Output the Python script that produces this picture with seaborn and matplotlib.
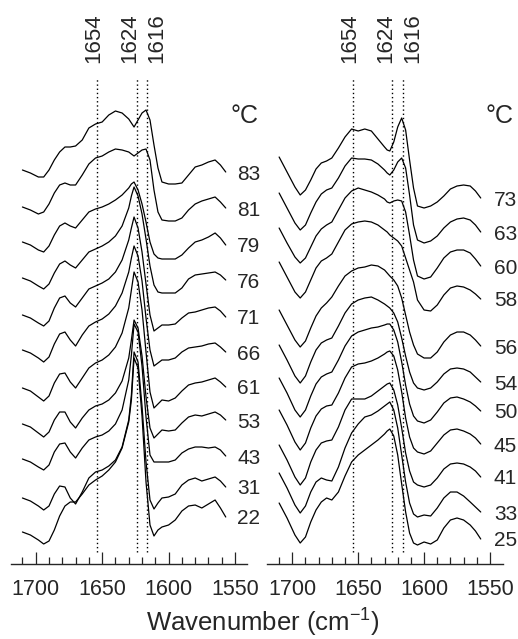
import pandas as pd
import numpy as np
import matplotlib
matplotlib.use('Agg')
import matplotlib.pyplot as plt
import seaborn as sns

# Wavenumber grid (cm-1) shared by all spectra
wavenumber = [1710, 1704, 1698, 1694, 1690, 1686, 1682, 1678, 1674, 1670, 1665, 1660, 1655, 1650,
              1645, 1640, 1635, 1630, 1628, 1626, 1623, 1620, 1617, 1614, 1611, 1608, 1605, 1600,
              1595, 1590, 1585, 1580, 1575, 1570, 1565, 1561, 1557]

# Left panel: stacked spectra (arbitrary units incl. vertical offset), by temperature
left_temps = ['83', '81', '79', '76', '71', '66', '61', '53', '43', '31', '22']
left_83 = [394, 391, 387, 387, 394, 404, 412, 417, 417, 418, 424, 436, 440, 442, 449, 453, 451, 445, 441,
           437, 444, 451, 454, 444, 419, 396, 382, 380, 380, 381, 389, 397, 399, 402, 404, 399, 392]
left_81 = [357, 354, 350, 352, 360, 371, 379, 381, 379, 379, 389, 400, 406, 408, 412, 415, 414, 412, 410,
           408, 411, 414, 415, 404, 374, 352, 344, 343, 343, 346, 354, 360, 363, 365, 367, 362, 356]
left_79 = [322, 319, 314, 312, 318, 329, 338, 341, 338, 336, 344, 352, 355, 357, 360, 364, 369, 376, 380,
           382, 374, 360, 342, 322, 310, 306, 305, 305, 305, 309, 316, 322, 324, 327, 331, 326, 319]
left_76 = [286, 283, 278, 275, 280, 291, 300, 303, 299, 296, 304, 312, 315, 318, 322, 328, 338, 356, 368,
           377, 368, 350, 325, 298, 279, 272, 271, 271, 271, 276, 285, 289, 290, 291, 292, 289, 284]
left_71 = [249, 246, 241, 238, 243, 256, 266, 268, 261, 257, 266, 275, 278, 281, 285, 292, 304, 324, 336,
           347, 336, 312, 280, 249, 233, 236, 239, 239, 240, 246, 251, 252, 254, 256, 257, 253, 247]
left_66 = [214, 211, 206, 202, 207, 220, 230, 232, 224, 218, 229, 238, 242, 245, 250, 258, 271, 292, 306,
           318, 308, 283, 246, 214, 198, 201, 204, 204, 206, 212, 216, 217, 218, 220, 221, 217, 212]
left_61 = [176, 173, 167, 163, 168, 181, 190, 191, 182, 176, 186, 196, 201, 204, 209, 217, 231, 256, 274,
           292, 282, 254, 212, 172, 156, 160, 164, 163, 166, 173, 179, 181, 182, 184, 186, 182, 177]
left_53 = [140, 137, 131, 127, 132, 144, 152, 152, 142, 136, 146, 154, 158, 160, 164, 171, 183, 206, 224,
           244, 236, 208, 167, 136, 126, 130, 134, 133, 134, 141, 147, 149, 148, 150, 152, 149, 144]
left_43 = [105, 102, 97, 94, 99, 112, 120, 121, 112, 106, 116, 124, 127, 129, 133, 140, 154, 184, 209,
           240, 232, 198, 147, 109, 102, 102, 102, 102, 104, 111, 115, 117, 117, 116, 117, 114, 108]
left_31 = [66, 63, 58, 54, 58, 70, 78, 77, 66, 60, 72, 86, 92, 94, 98, 104, 117, 144, 169,
           212, 202, 158, 102, 64, 55, 61, 66, 67, 70, 79, 84, 86, 83, 85, 87, 83, 77]
left_22 = [32, 29, 24, 20, 23, 34, 48, 58, 62, 62, 70, 79, 84, 88, 94, 102, 116, 142, 164,
           206, 196, 148, 82, 39, 28, 34, 37, 39, 44, 53, 58, 59, 56, 60, 64, 56, 47]

# Right panel
right_temps = ['73', '63', '60', '58', '56', '54', '50', '45', '41', '33', '25']
right_73 = [407, 392, 377, 369, 374, 384, 395, 401, 403, 406, 416, 427, 435, 433, 435, 433, 425, 417, 414,
            413, 422, 437, 446, 434, 404, 376, 358, 356, 358, 362, 368, 375, 378, 379, 378, 373, 366]
right_63 = [371, 356, 341, 334, 339, 351, 362, 370, 374, 376, 386, 398, 406, 405, 405, 404, 400, 394, 391,
            389, 394, 402, 406, 396, 369, 339, 324, 321, 323, 328, 336, 342, 345, 346, 344, 339, 332]
right_60 = [336, 321, 307, 301, 306, 317, 328, 335, 339, 342, 354, 366, 373, 376, 374, 372, 369, 365, 362,
            361, 363, 364, 363, 352, 329, 304, 288, 285, 287, 296, 306, 312, 314, 314, 311, 305, 298]
right_58 = [302, 287, 272, 266, 272, 284, 296, 303, 306, 310, 322, 334, 340, 342, 343, 342, 339, 334, 332,
            329, 326, 323, 318, 306, 294, 282, 264, 254, 253, 259, 269, 276, 278, 277, 274, 270, 265]
right_56 = [254, 239, 224, 217, 223, 236, 248, 256, 261, 267, 278, 288, 293, 296, 297, 299, 298, 294, 291,
            288, 284, 278, 266, 249, 232, 219, 210, 206, 206, 212, 222, 229, 232, 232, 229, 224, 218]
right_54 = [219, 204, 188, 181, 188, 202, 214, 221, 224, 226, 238, 251, 260, 264, 266, 267, 264, 260, 258,
            256, 251, 242, 226, 208, 192, 181, 176, 174, 176, 182, 190, 195, 196, 195, 192, 187, 182]
right_50 = [186, 171, 154, 147, 154, 168, 180, 187, 190, 192, 204, 218, 228, 232, 234, 236, 237, 239, 240,
            240, 234, 222, 202, 179, 160, 148, 143, 141, 144, 152, 161, 166, 167, 165, 162, 158, 153]
right_45 = [154, 139, 122, 114, 121, 136, 148, 155, 158, 159, 171, 186, 197, 200, 201, 203, 206, 210, 212,
            213, 208, 194, 172, 146, 127, 116, 112, 110, 113, 121, 129, 134, 135, 133, 130, 126, 120]
right_41 = [119, 104, 87, 79, 86, 102, 114, 121, 123, 124, 137, 154, 165, 165, 165, 168, 173, 178, 180,
            181, 174, 159, 136, 111, 93, 82, 79, 77, 79, 86, 95, 100, 101, 100, 97, 93, 87]
right_33 = [91, 76, 59, 51, 58, 72, 82, 86, 84, 83, 97, 116, 131, 140, 147, 149, 153, 158, 160,
            162, 154, 136, 109, 82, 61, 50, 47, 49, 48, 56, 66, 72, 72, 68, 62, 57, 52]
right_25 = [61, 46, 29, 21, 27, 42, 54, 62, 66, 64, 72, 88, 102, 109, 114, 119, 124, 130, 133,
            135, 128, 109, 80, 52, 31, 21, 19, 22, 20, 24, 36, 44, 46, 44, 39, 33, 25]

# Marked bands
band_pos = [1654, 1624, 1616]
band_labels = ['1654', '1624', '1616']

left_series = [left_83, left_81, left_79, left_76, left_71, left_66, left_61, left_53, left_43, left_31, left_22]
right_series = [right_73, right_63, right_60, right_58, right_56, right_54, right_50, right_45, right_41,
                right_33, right_25]


def to_long(temps, series):
    rows = []
    for t, vals in zip(temps, series):
        for w, v in zip(wavenumber, vals):
            rows.append({'temperature': t, 'wavenumber': w, 'absorbance': v})
    return pd.DataFrame(rows)


df_left = to_long(left_temps, left_series)
df_right = to_long(right_temps, right_series)

sns.set_style('white')
plt.rcParams['font.family'] = ['Liberation Sans', 'DejaVu Sans']
plt.rcParams['mathtext.fontset'] = 'custom'
plt.rcParams['mathtext.rm'] = 'Liberation Sans'

fig = plt.figure(figsize=(5.18, 6.39), dpi=100)
ax_l = fig.add_axes([11 / 518, 75 / 639, 236 / 518, 564 / 639])
ax_r = fig.add_axes([267 / 518, 75 / 639, 236 / 518, 564 / 639])

label_dx = [-2, -5, 7]  # spread the band labels a little (points)

for ax, df, temps, series, xlim, lab_x in [
        (ax_l, df_left, left_temps, left_series, (1718.6, 1541.0), 1548.5),
        (ax_r, df_right, right_temps, right_series, (1719.2, 1540.1), 1547.0)]:
    sns.lineplot(data=df, x='wavenumber', y='absorbance', units='temperature', estimator=None,
                 sort=False, color='black', linewidth=0.9, ax=ax, legend=False)

    ax.vlines(band_pos, 12, 487, colors='black', linestyles=(0, (1, 2)), linewidth=1.0)
    for pos, lbl, dx in zip(band_pos, band_labels, label_dx):
        ax.annotate(lbl, xy=(pos, 501), xytext=(dx, 0), textcoords='offset points',
                    rotation=90, ha='center', va='bottom', fontsize=16, annotation_clip=False)

    # temperature labels at the end of each trace
    for t, vals in zip(temps, series):
        ax.text(lab_x, vals[-1] - 2, t, ha='left', va='center', fontsize=15, clip_on=False)
    ax.text(1553.5, 448, '°C', ha='left', va='center', fontsize=18, clip_on=False)

    ax.set_xlim(*xlim)
    ax.set_ylim(0, 564)
    ax.set_xticks([1700, 1650, 1600, 1550])
    ax.set_xticks(np.arange(1550, 1711, 10), minor=True)
    ax.set_xticklabels(['1700', '1650', '1600', '1550'], fontsize=15.5)
    ax.tick_params(axis='x', which='major', direction='in', length=9, width=0.9, pad=11, bottom=True)
    ax.tick_params(axis='x', which='minor', direction='in', length=5, width=0.9, bottom=True)
    ax.set_yticks([])
    ax.set_xlabel('')
    ax.set_ylabel('')
    sns.despine(ax=ax, left=True, top=True, right=True)
    ax.spines['bottom'].set_linewidth(1.0)
    ax.patch.set_alpha(0)

fig.text(0.508, 0.027, 'Wavenumber (cm$^{\\mathregular{-1}}$)', ha='center', va='center', fontsize=18.5)

fig.savefig('out.png', dpi=100)
